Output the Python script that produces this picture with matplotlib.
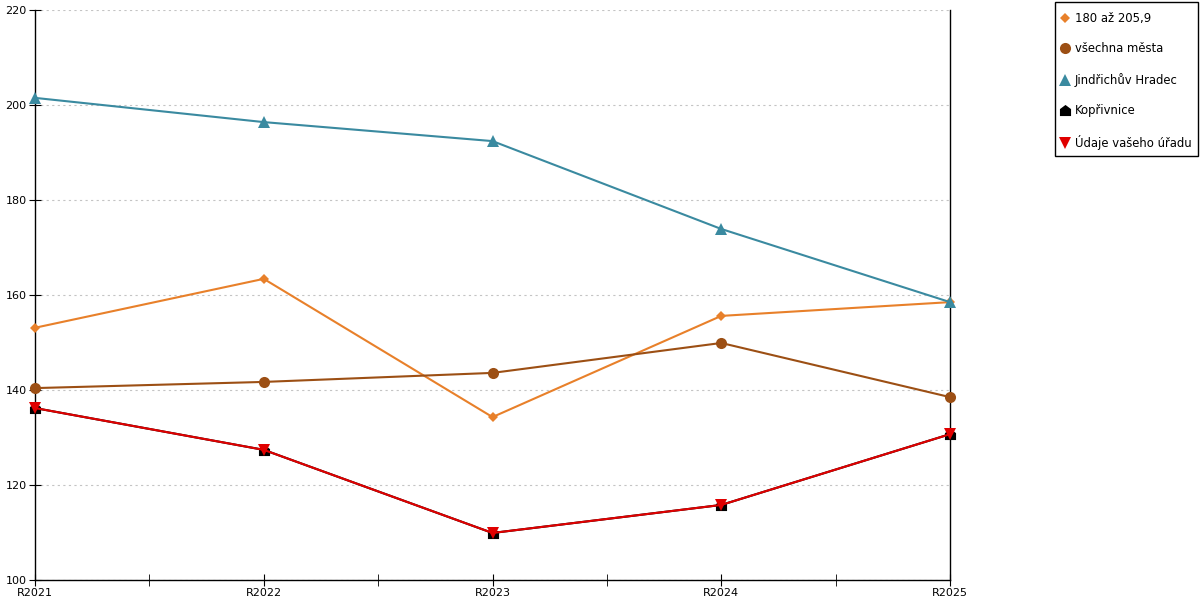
import matplotlib.pyplot as plt
from matplotlib.lines import Line2D
from matplotlib.patches import Rectangle
from matplotlib.path import Path
from matplotlib.ticker import MultipleLocator

years = ["R2021", "R2022", "R2023", "R2024", "R2025"]

pasmo = [153.1, 163.4, 134.3, 155.6, 158.5]       # 180 až 205,9
vsechna = [140.4, 141.7, 143.6, 149.9, 138.5]     # všechna města
jh = [201.5, 196.4, 192.4, 173.9, 158.5]          # Jindřichův Hradec
koprivnice = [136.2, 127.4, 109.9, 115.8, 130.7]
urad = [136.2, 127.4, 109.9, 115.8, 130.7]        # Údaje vašeho úřadu

# house shaped marker for Kopřivnice
house = Path([(-1, -1), (1, -1), (1, 0.25), (0, 1), (-1, 0.25), (-1, -1)])

plt.rcParams['font.family'] = ['DejaVu Sans']

fig = plt.figure(figsize=(12, 6), dpi=100)
ax = fig.add_axes([35 / 1200, 20 / 600, 915 / 1200, 570 / 600])

x = range(len(years))
series = [
    ("180 až 205,9", pasmo, "#e8802a", "D", 5.5),
    ("všechna města", vsechna, "#9c4f14", "o", 8),
    ("Jindřichův Hradec", jh, "#3a8aa0", "^", 8),
    ("Kopřivnice", koprivnice, "#000000", house, 8),
    ("Údaje vašeho úřadu", urad, "#e00000", "v", 9),
]

handles = []
for name, vals, col, mk, ms in series:
    ax.plot(x, vals, color=col, lw=1.5, marker=mk, ms=ms,
            markeredgewidth=0, clip_on=False, zorder=3)
    handles.append(Line2D([], [], color=col, lw=0, marker=mk,
                          ms=ms, markeredgewidth=0, label=name))

ax.set_xlim(0, len(years) - 1)
ax.set_ylim(100, 220)
ax.set_xticks(list(x))
ax.set_xticklabels(years)
ax.xaxis.set_minor_locator(MultipleLocator(0.5))
ax.yaxis.set_major_locator(MultipleLocator(20))
ax.grid(axis='y', color='#c4c4c4', ls=(0, (2, 3)), lw=0.8)
ax.set_axisbelow(True)

ax.spines['top'].set_visible(False)
for s in ['left', 'right', 'bottom']:
    ax.spines[s].set_linewidth(1)

ax.tick_params(axis='both', which='both', direction='inout', labelsize=8,
               colors='black')
ax.tick_params(axis='x', which='major', length=8, pad=2)
ax.tick_params(axis='x', which='minor', length=8)
ax.tick_params(axis='y', length=8, pad=2)
ax.tick_params(axis='y', right=False)

# legend box drawn by hand so the padding matches
fig.patches.append(Rectangle((1055 / 1200, 1 - 156 / 600), 143 / 1200,
                             154 / 600, transform=fig.transFigure,
                             fill=False, edgecolor='black', lw=1))
fig.legend(handles=handles, loc='upper left',
           bbox_to_anchor=(1060 / 1200, 1 - 12 / 600), fontsize=8.4,
           frameon=False, handlelength=0.9, handletextpad=0.35,
           labelspacing=1.5, borderpad=0, borderaxespad=0)

fig.savefig("out.png", dpi=100)
